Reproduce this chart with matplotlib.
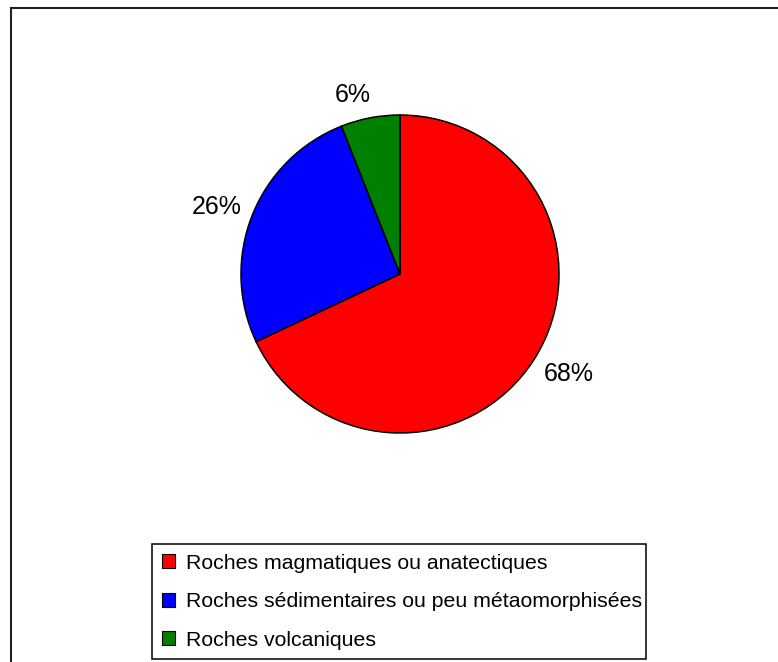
import matplotlib
matplotlib.use("Agg")
import matplotlib.pyplot as plt
from matplotlib.lines import Line2D

plt.rcParams['font.family'] = ['Liberation Sans', 'DejaVu Sans']

# rock types and their share (%)
categories = ["Roches magmatiques ou anatectiques",
              "Roches sédimentaires ou peu métaomorphisées",
              "Roches volcaniques"]
shares = [68, 26, 6]
colors = ["#ff0000", "#0000ff", "#008000"]

W, H = 778, 662
fig = plt.figure(figsize=(W / 100, H / 100), dpi=100)
fig.patch.set_facecolor("white")

# pie centred at (400, 274) px, radius 159 px
cx, cy, r = 400, 274, 159
ax = fig.add_axes([(cx - r) / W, (H - cy - r) / H, 2 * r / W, 2 * r / H])
wedges, texts, autotexts = ax.pie(
    shares, colors=colors, startangle=90, counterclock=False, radius=1,
    autopct="%d%%", pctdistance=1.22,
    wedgeprops=dict(edgecolor="black", linewidth=1.1),
    textprops=dict(fontsize=18, color="black"))
ax.set_xlim(-1, 1)
ax.set_ylim(-1, 1)
ax.set_aspect("auto")
ax.axis("off")

# nudge the percentage labels a little (data units of the pie radius)
nudges = [(0.03, 0.025), (-0.02, -0.025), (-0.07, -0.07)]
for t, (dx, dy) in zip(autotexts, nudges):
    x, y = t.get_position()
    t.set_position((x + dx, y + dy))

# legend box below the pie
leg = fig.legend(wedges, categories, loc="upper left",
                 bbox_to_anchor=(152 / W, 1 / H, 494 / W, 117 / H),
                 bbox_transform=fig.transFigure, mode="expand",
                 fontsize=15.3, frameon=True, fancybox=False, framealpha=1,
                 edgecolor="black", borderpad=0.45, labelspacing=0.92,
                 handlelength=0.65, handleheight=0.65, handletextpad=0.5,
                 borderaxespad=0)
leg.get_frame().set_linewidth(1.1)
for h in leg.legend_handles:
    h.set_linewidth(0.8)

# outer chart frame (top and left edges)
fig.add_artist(Line2D([11 / W, 1], [1 - 8 / H, 1 - 8 / H], color="#202020",
                      linewidth=1.5, transform=fig.transFigure))
fig.add_artist(Line2D([11 / W, 11 / W], [0, 1 - 8 / H], color="#202020",
                      linewidth=1.5, transform=fig.transFigure))

fig.savefig("out.png", dpi=100, facecolor="white")
